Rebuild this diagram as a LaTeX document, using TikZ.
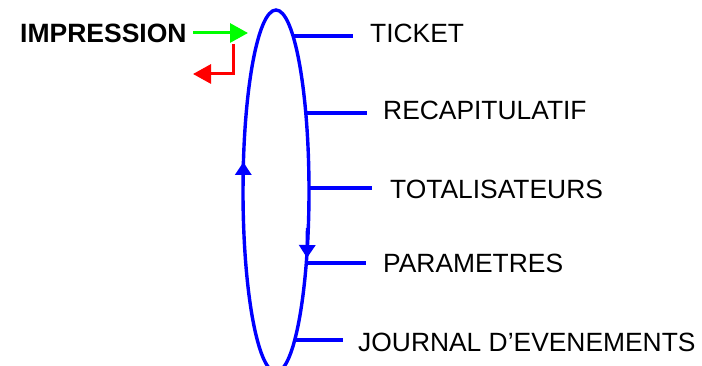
\documentclass[tikz,border=0pt]{standalone}
\usepackage{fontspec}
\setmainfont{Liberation Sans}
\usetikzlibrary{arrows.meta}
\begin{document}
\begin{tikzpicture}[x=1pt,y=-1pt,
  lbl/.style={anchor=base west,inner sep=0pt,font=\fontsize{26.4}{30}\selectfont},
  boldlbl/.style={lbl,font=\fontsize{26.5}{30}\selectfont\bfseries},
  loopline/.style={draw=blue,line width=3.4pt},
  tick/.style={draw=blue,line width=3.1pt},
  looparrow/.style={draw=blue,line width=3.4pt,-{Triangle[length=13pt,width=16pt]}},
  inarrow/.style={draw=green,line width=3pt,-{Triangle[length=18pt,width=19pt]}},
  outarrow/.style={draw=red,line width=3pt,-{Triangle[length=18pt,width=19pt]}}]
\useasboundingbox (0,0) rectangle (702,366);
\definecolor{green}{RGB}{0,255,0}
\definecolor{red}{RGB}{255,0,0}
\definecolor{blue}{RGB}{0,0,255}
\begin{scope}
\clip (0,0) rectangle (702,366);
\draw[loopline] (276,191) ellipse (33 and 181);
\end{scope}
% labels
\node[boldlbl] (imp) at (20,43) {IMPRESSION};
\node[lbl] (t1) at (370,43) {TICKET};
\node[lbl] (t2) at (383,120) {RECAPITULATIF};
\node[lbl] (t3) at (390,199) {TOTALISATEURS};
\node[lbl] (t4) at (383,273) {PARAMETRES};
\node[lbl] (t5) at (358,352) {JOURNAL D’EVENEMENTS};
% points on the loop and line ends
\coordinate (e1) at (293,36);   \coordinate (f1) at (353,36);
\coordinate (e2) at (305,113);  \coordinate (f2) at (367,113);
\coordinate (e3) at (308,188);  \coordinate (f3) at (372,188);
\coordinate (e4) at (306,263);  \coordinate (f4) at (366,263);
\coordinate (e5) at (294,340);  \coordinate (f5) at (343,340);
\foreach \i in {1,...,5}{\draw[tick] (e\i) -- (f\i);}
% direction arrows on the loop
\coordinate (ua) at (243.3,186);
\coordinate (ub) at (243.3,162);
\draw[looparrow] (ua) -- (ub);
\coordinate (da) at (307.5,228);
\coordinate (db) at (307,258);
\draw[looparrow] (da) -- (db);
% input/output arrows
\coordinate (gs) at (193,33);
\coordinate (ge) at (248,33);
\draw[inarrow] (gs) -- (ge);
\coordinate (rs) at (233.5,44);
\coordinate (rc) at (233.5,74);
\coordinate (re) at (193,74);
\draw[outarrow] (rs) -- (rc) -- (re);
\end{tikzpicture}
\end{document}
